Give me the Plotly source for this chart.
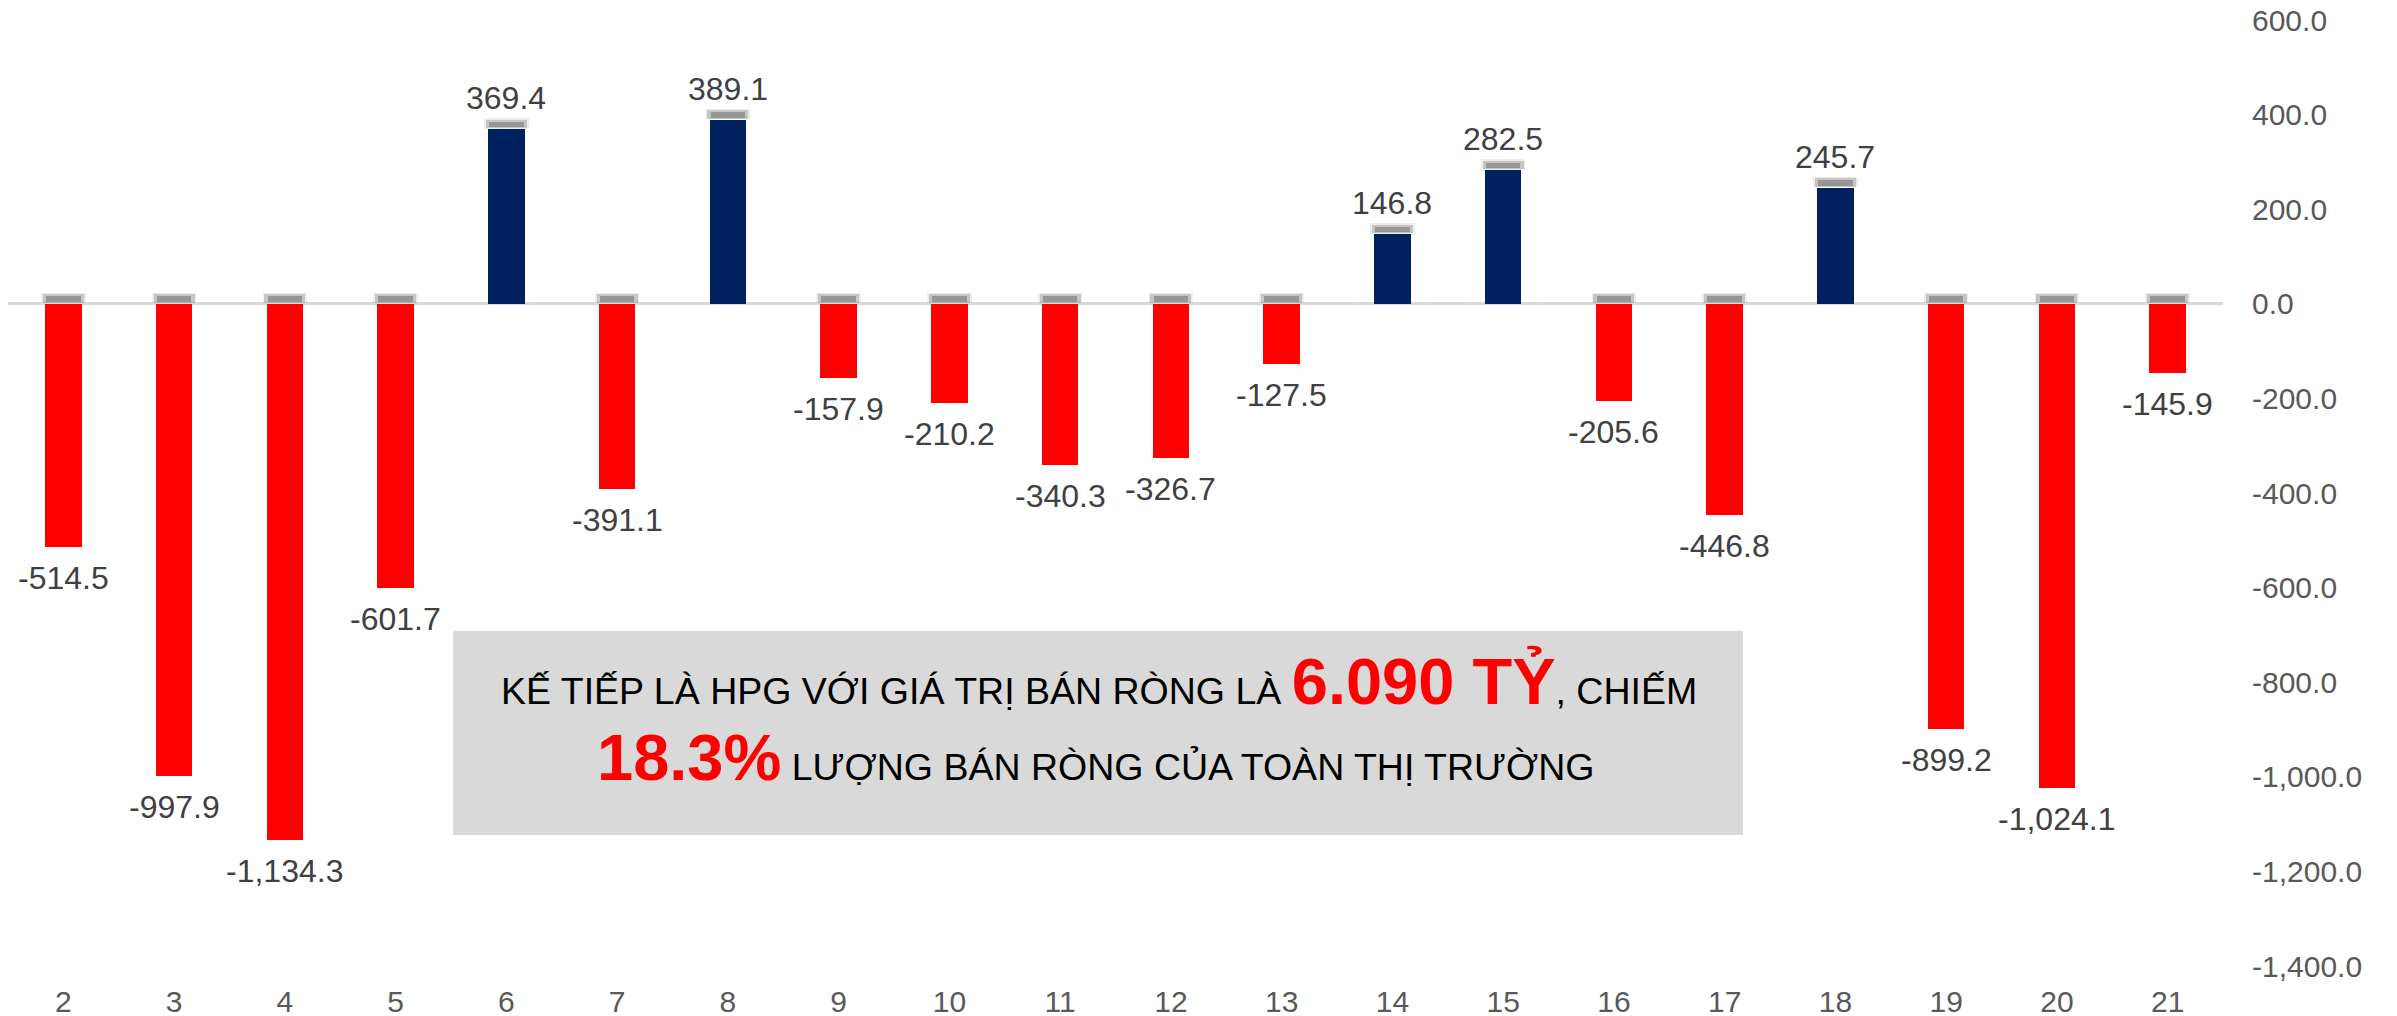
import plotly.graph_objects as go

categories = [str(i) for i in range(2, 22)]
values = [-514.5, -997.9, -1134.3, -601.7, 369.4, -391.1, 389.1, -157.9, -210.2, -340.3,
          -326.7, -127.5, 146.8, 282.5, -205.6, -446.8, 245.7, -899.2, -1024.1, -145.9]
y_ticks = list(range(-1400, 601, 200))
y_tick_labels = [f"{v:,.1f}" for v in y_ticks]

RED = "#FF0000"
NAVY = "#002060"
colors = [NAVY if v > 0 else RED for v in values]
shadow_base = [max(v, 0) for v in values]

fig = go.Figure()
# soft shadow on the top edge of each bar (outer blur, inner core)
fig.add_trace(go.Bar(x=categories, y=[22] * len(values), base=[b + 1 for b in shadow_base],
                     width=0.40, marker=dict(color="rgba(160,160,160,0.20)", line=dict(width=0)),
                     hoverinfo="skip", showlegend=False))
fig.add_trace(go.Bar(x=categories, y=[18] * len(values), base=[b + 2 for b in shadow_base],
                     width=0.37, marker=dict(color="rgba(140,140,140,0.40)", line=dict(width=0)),
                     hoverinfo="skip", showlegend=False))
fig.add_trace(go.Bar(x=categories, y=[12] * len(values), base=[b + 4 for b in shadow_base],
                     width=0.31, marker=dict(color="rgba(130,130,130,0.7)", line=dict(width=0)),
                     hoverinfo="skip", showlegend=False))
fig.add_trace(go.Bar(x=categories, y=values, width=0.33,
                     marker=dict(color=colors, line=dict(width=0)),
                     hoverinfo="skip", showlegend=False))

for i, v in enumerate(values):
    fig.add_annotation(x=i, y=v, xref="x", yref="y", text=f"{v:,.1f}", showarrow=False,
                       yanchor="middle", yshift=31 if v > 0 else -31,
                       font=dict(family="Liberation Sans, Arial", size=32, color="#404040"))

# text box
fig.add_shape(type="rect", xref="paper", yref="paper", x0=0.2009, x1=0.7833, y0=0.1385, y1=0.354,
              fillcolor="#D9D9D9", line=dict(width=0), layer="above")
fig.add_annotation(xref="paper", yref="paper", x=0.4925, y=0.260, showarrow=False,
                   text=("KẾ TIẾP LÀ HPG VỚI GIÁ TRỊ BÁN RÒNG LÀ "
                         "<span style='font-size:65px;color:#FF0000'><b>6.090 TỶ</b></span>, CHIẾM"),
                   font=dict(family="Liberation Sans, Arial", size=37.5, color="#000000"))
fig.add_annotation(xref="paper", yref="paper", x=0.491, y=0.1797, showarrow=False,
                   text=("<span style='font-size:65px;color:#FF0000'><b>18.3%</b></span> "
                         "LƯỢNG BÁN RÒNG CỦA TOÀN THỊ TRƯỜNG"),
                   font=dict(family="Liberation Sans, Arial", size=37.5, color="#000000"))

fig.update_layout(
    width=2397, height=1016,
    margin=dict(l=0, r=182, t=12, b=58),
    paper_bgcolor="white", plot_bgcolor="white",
    barmode="overlay", bargap=0,
    showlegend=False,
    xaxis=dict(type="category", range=[-0.5, len(categories) - 0.5], automargin=False,
               showgrid=False, zeroline=False, showline=False, ticks="",
               ticklabelstandoff=15, ticklabeloverflow="allow",
               tickfont=dict(family="Liberation Sans, Arial", size=30, color="#595959")),
    yaxis=dict(side="right", range=[-1400, 600], tickvals=y_ticks, ticktext=y_tick_labels,
               automargin=False, ticklabeloverflow="allow",
               showgrid=False, zeroline=True, zerolinecolor="#D9D9D9", zerolinewidth=2.5,
               showline=False, ticks="", ticklabelstandoff=28,
               tickfont=dict(family="Liberation Sans, Arial", size=30, color="#595959")),
)

fig.write_html("out.html")
